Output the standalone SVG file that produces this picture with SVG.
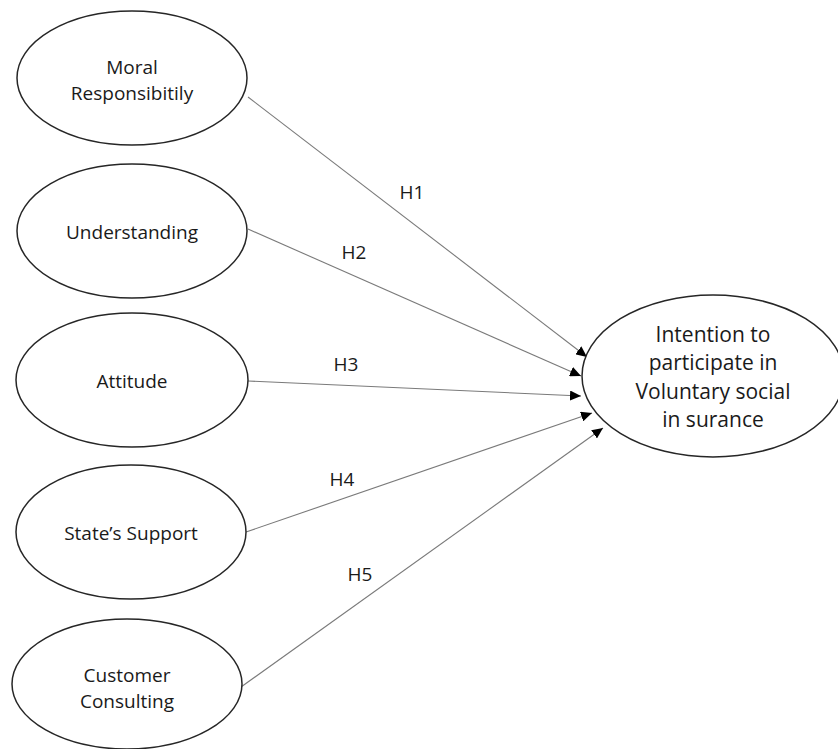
<svg xmlns="http://www.w3.org/2000/svg" width="838" height="749" viewBox="0 0 838 749">
  <style>
    .node ellipse { fill: #ffffff; stroke: #262626; stroke-width: 1.5; }
    .node text { font-family: "Open Sans", "Liberation Sans", sans-serif; font-size: 19px; fill: #1a1a1a; text-anchor: middle; }
    #intention text { font-size: 21px; }
    .edge { stroke: #7a7a7a; stroke-width: 1.1; fill: none; marker-end: url(#arrow); }
    .label { font-family: "Open Sans", "Liberation Sans", sans-serif; font-size: 19px; fill: #1a1a1a; text-anchor: middle; }
  </style>
  <defs>
    <marker id="arrow" markerUnits="userSpaceOnUse" markerWidth="12" markerHeight="10" refX="11" refY="5" orient="auto">
      <path d="M0,0 L11,5 L0,10 Z" fill="#000000"/>
    </marker>
  </defs>
  <rect width="838" height="749" fill="#ffffff"/>

  <g id="connectors">
    <line class="edge" x1="248" y1="97" x2="587" y2="357"/>
    <line class="edge" x1="248" y1="229" x2="581" y2="376"/>
    <line class="edge" x1="248" y1="381" x2="581" y2="396"/>
    <line class="edge" x1="246" y1="532" x2="592" y2="413"/>
    <line class="edge" x1="241" y1="687" x2="603" y2="428"/>
    <text class="label" x="412" y="199">H1</text>
    <text class="label" x="354" y="259">H2</text>
    <text class="label" x="346" y="371">H3</text>
    <text class="label" x="342" y="486">H4</text>
    <text class="label" x="360" y="581">H5</text>
  </g>

  <g id="moral" class="node">
    <ellipse cx="132" cy="78" rx="115" ry="67"/>
    <text x="132" y="74">Moral</text>
    <text x="132" y="100">Responsibitily</text>
  </g>
  <g id="understanding" class="node">
    <ellipse cx="132" cy="231" rx="115" ry="67"/>
    <text x="132" y="239">Understanding</text>
  </g>
  <g id="attitude" class="node">
    <ellipse cx="132" cy="380" rx="116" ry="67"/>
    <text x="132" y="388">Attitude</text>
  </g>
  <g id="state-support" class="node">
    <ellipse cx="131" cy="532" rx="115" ry="67"/>
    <text x="131" y="540">State’s Support</text>
  </g>
  <g id="customer-consulting" class="node">
    <ellipse cx="127" cy="684" rx="115" ry="65"/>
    <text x="127" y="682">Customer</text>
    <text x="127" y="708">Consulting</text>
  </g>
  <g id="intention" class="node">
    <ellipse cx="713" cy="376" rx="131" ry="81"/>
    <text x="713" y="342">Intention to</text>
    <text x="713" y="370">participate in</text>
    <text x="713" y="399">Voluntary social</text>
    <text x="713" y="427">in surance</text>
  </g>
</svg>
